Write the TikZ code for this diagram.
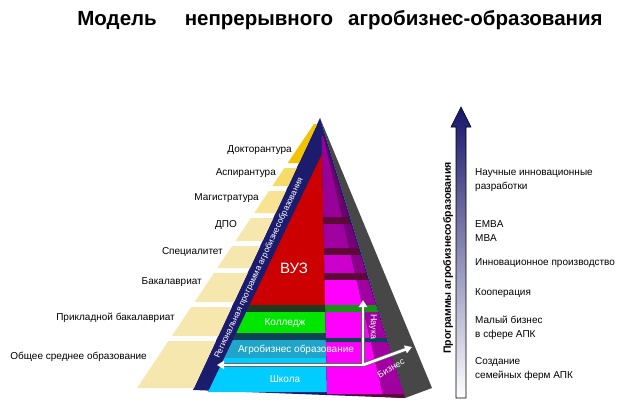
\documentclass[tikz,border=0pt]{standalone}
\usepackage{fontspec}
\setmainfont{Liberation Sans}
\usepackage{xcolor}
\usepackage{tikz}
\usetikzlibrary{shapes,arrows,positioning,calc,arrows.meta}

\definecolor{navyband}{HTML}{1C1C6E}
\definecolor{shadowgrey}{HTML}{474747}
\definecolor{stepgold}{HTML}{F3C300}
\definecolor{stepyellow}{HTML}{F6DC66}
\definecolor{steplight}{HTML}{F7E391}
\definecolor{steppale}{HTML}{F5E7AE}
\definecolor{vuzred}{HTML}{CC0000}
\definecolor{collgreen}{HTML}{00E600}
\definecolor{agroteal}{HTML}{1FA5C9}
\definecolor{schoolcyan}{HTML}{00CCFF}
\definecolor{darkslab}{HTML}{1F3A1F}
\definecolor{darkteal}{HTML}{0B4455}
\definecolor{maroonline}{HTML}{5E0838}
\definecolor{slabgreen}{HTML}{149414}
\definecolor{purpA}{HTML}{990099}
\definecolor{purpAside}{HTML}{6E006E}
\definecolor{purpB}{HTML}{A000A0}
\definecolor{purpBside}{HTML}{74007A}
\definecolor{purpC}{HTML}{CC00CC}
\definecolor{purpCside}{HTML}{8A008A}
\definecolor{magentaE}{HTML}{FF00FF}
\definecolor{naukaside}{HTML}{A000A0}
\definecolor{arrowtop}{HTML}{16166A}
\definecolor{arrowmid}{HTML}{8A8AC4}

\begin{document}
\begin{tikzpicture}[x=1pt, y=-1pt,
    lbl/.style={font=\fontsize{10}{12}\selectfont, inner sep=0pt, anchor=east},
    rlbl/.style={font=\fontsize{10}{14}\selectfont, inner sep=0pt, anchor=west, align=left},
    ontext/.style={font=\fontsize{10}{12}\selectfont, text=white, inner sep=0pt},
    wline/.style={draw=white, line width=2.6pt},
    gline/.style={draw=black!60, line width=4pt}]
    \useasboundingbox (0,0) rectangle (624,415);

    % Title
    \node [font=\fontsize{20.5}{24}\selectfont\bfseries, inner sep=0pt] (title) at (340,20) {Модель\hspace{28pt}непрерывного\hspace{15pt}агробизнес-образования};

    % Pyramid body
    \fill [shadowgrey] (320,118) -- (432,388) -- (405,398) -- cycle;
    \fill [navyband] (193,390) -- (405,398) -- (320,118) -- cycle;

    % Stairs
    \foreach \t/\b/\c in {124/163/stepgold, 168/186/stepyellow, 191/213/steplight, 218/241/steppale, 246/268/steppale, 273/302/steppale, 307/336/steppale, 341/388/steppale}
        \fill [fill=\c] ({137+(388-\t)*0.67},\t) -- ({193+(390-\t)*0.467},\t) -- ({193+(390-\b)*0.467},\b) -- ({137+(388-\b)*0.67},\b) -- cycle;

    % Front face
    \fill [vuzred] (322,154) -- ({208+(392-305)*0.479},305) -- ({322+(305-154)*0.021},305) -- cycle;
    \foreach \t/\b/\c in {305/312/darkslab, 312/333/collgreen, 333/340/darkteal, 340/358/agroteal, 358/392/schoolcyan}
        \fill [fill=\c] ({208+(392-\t)*0.479},\t) -- ({322+(\t-154)*0.021},\t) -- ({322+(\b-154)*0.021},\b) -- ({208+(392-\b)*0.479},\b) -- cycle;

    % Side face
    \fill [maroonline] (322,134) -- (327,394) -- (405,398) -- cycle;
    \foreach \t/\b/\m/\s in {136/217/purpA/purpAside, 224/248/purpB/purpBside, 255/273/purpC/purpCside, 280/305/magentaE/purpB, 312/338/magentaE/naukaside, 342/394/magentaE/naukaside}
    {
        \fill [fill=\m] ({322+(\t-154)*0.021},\t) -- ({322+(\t-130)*0.23},\t) -- ({322+(\b-130)*0.23},\b) -- ({322+(\b-154)*0.021},\b) -- cycle;
        \fill [fill=\s] ({322+(\t-130)*0.23},\t) -- ({321+(\t-128)*0.311},\t) -- ({321+(\b-128)*0.311},\b) -- ({322+(\b-130)*0.23},\b) -- cycle;
    }
    \fill [slabgreen] ({322+(305-154)*0.021},305) -- ({321+(305-128)*0.311},305) -- ({321+(312-128)*0.311},312) -- ({322+(312-154)*0.021},312) -- cycle;
    \fill [darkteal] ({322+(338-154)*0.021},338) -- ({321+(338-128)*0.311},338) -- ({321+(342-128)*0.311},342) -- ({322+(342-154)*0.021},342) -- cycle;

    % Texts on pyramid
    \node [ontext, font=\fontsize{8.5}{10}\selectfont, rotate=65] (region) at (259,268) {Региональная программа агробизнесобразования};
    \node [ontext, font=\fontsize{15}{18}\selectfont] (vuz) at (294,268) {ВУЗ};
    \node [ontext] (college) at (285,323) {Колледж};
    \node [ontext] (agro) at (296,350) {Агробизнес образование};
    \node [ontext] (school) at (285,379) {Школа};
    \node [ontext, font=\fontsize{9}{10}\selectfont, rotate=-90] (nauka) at (373,327) {Наука};
    \node [ontext, font=\fontsize{9}{10}\selectfont, rotate=30] (biznes) at (391,368) {Бизнес};

    % White arrows
    \coordinate (hub) at (363,365);
    \coordinate (naukaTip) at (363,300);
    \coordinate (agroTip) at (217,365);
    \coordinate (bizTip) at (412,347);
    \draw [gline, shorten >=5pt] (hub) -- (naukaTip);
    \draw [gline, shorten >=5pt] (hub) -- (agroTip);
    \draw [gline, shorten >=5pt] (hub) -- (bizTip);
    \draw [wline, -{Triangle[width=8pt,length=7pt]}] (hub) -- (naukaTip);
    \draw [wline, -{Triangle[width=8pt,length=7pt]}] (hub) -- (agroTip);
    \draw [wline, -{Triangle[width=8pt,length=7pt]}] (hub) -- (bizTip);

    % Levels
    \node [lbl] (doct) at (292,150) {Докторантура};
    \node [lbl] (asp) at (276,173) {Аспирантура};
    \node [lbl] (mag) at (259,198) {Магистратура};
    \node [lbl] (dpo) at (237,225) {ДПО};
    \node [lbl] (spec) at (223,252) {Специалитет};
    \node [lbl] (bac) at (202,282) {Бакалавриат};
    \node [lbl] (pbac) at (175,318) {Прикладной бакалавриат};
    \node [lbl] (general) at (147,357) {Общее среднее образование};

    % Scale arrow
    \shadedraw [bottom color=white, middle color=arrowmid, top color=arrowtop, draw=black, line width=0.6pt] (456,398) -- (456,127) -- (451,127) -- (461,107) -- (471,127) -- (466,127) -- (466,398) -- cycle;
    \node [font=\fontsize{10.5}{12}\selectfont\bfseries, rotate=90, inner sep=0pt] (progs) at (448,258) {Программы агробизнесобразования};

    \node [rlbl] (sci) at (475,180) {Научные инновационные\\разработки};
    \node [rlbl] (mba) at (475,231) {EMBA\\MBA};
    \node [rlbl] (innov) at (475,263) {Инновационное производство};
    \node [rlbl] (coop) at (475,293) {Кооперация};
    \node [rlbl] (small) at (475,328) {Малый бизнес\\в сфере АПК};
    \node [rlbl] (farm) at (475,369) {Создание\\семейных ферм АПК};
\end{tikzpicture}
\end{document}
